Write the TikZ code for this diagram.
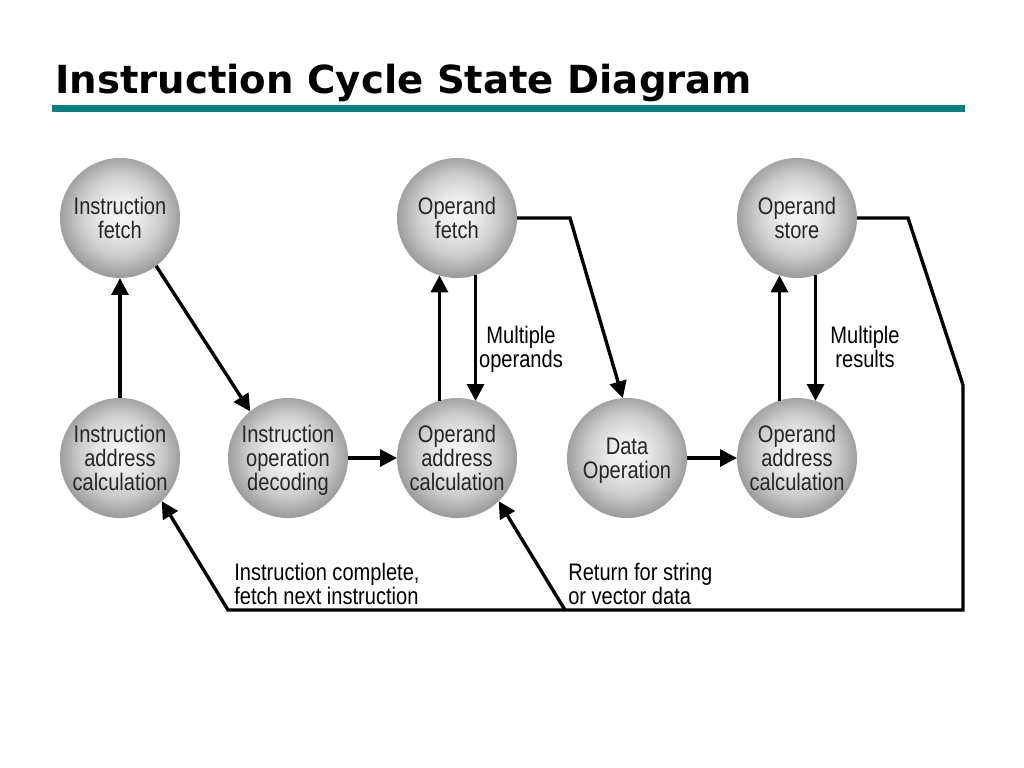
\documentclass[tikz,border=0pt]{standalone}
\usepackage{fontspec}
\setmainfont{Liberation Sans}
\newfontfamily\narrowfont[FakeStretch=0.84]{Liberation Sans}
\newfontfamily\titlefont{DejaVu Sans}
\usepackage{tikz}
\usetikzlibrary{arrows.meta}
\definecolor{rulecolor}{RGB}{0, 128, 128}
\pgfdeclareradialshading{stateshade}{\pgfpoint{0bp}{2bp}}{color(0bp)=(black!3); color(8bp)=(black!8); color(17bp)=(black!20); color(25bp)=(black!38); color(50bp)=(black!38)}

\begin{document}
\begin{tikzpicture}[x=0.025cm, y=-0.025cm,
    state/.style={circle, shading=stateshade, minimum size=3cm, inner sep=0pt, outer sep=0pt, text centered, align=center, text depth=0pt, font=\narrowfont\fontsize{17}{17}\selectfont, text=black!85},
    arrow/.style={-{Triangle[length=12pt, width=12pt]}, line width=2.4pt},
    note/.style={align=left, inner sep=0pt, text depth=0pt, font=\narrowfont\fontsize{17}{17}\selectfont}
]
\useasboundingbox (0,0) rectangle (1024,768);

% Title and rule
\node[anchor=base west, inner sep=0pt, font=\titlefont\fontsize{27.5}{30}\selectfont\bfseries] (title) at (55,94) {Instruction Cycle State Diagram};
\fill[rulecolor] (52,105) rectangle (965,112);

% Top row states
\node[state] (ifetch) at (120,218) {Instruction\\ fetch};
\node[state] (opfetch) at (457,218) {Operand\\ fetch};
\node[state] (opstore) at (797,218) {Operand\\ store};

% Bottom row states
\node[state] (iaddr) at (120,458) {Instruction\\ address\\ calculation};
\node[state] (idecode) at (288,458) {Instruction\\ operation\\ decoding};
\node[state] (oaddr) at (457,458) {Operand\\ address\\ calculation};
\node[state] (dataop) at (627,458) {Data\\ Operation};
\node[state] (saddr) at (797,458) {Operand\\ address\\ calculation};

% Arrows
\draw[arrow] (iaddr) -- (ifetch);
\draw[arrow] (ifetch.-53) -- (idecode.129);
\draw[arrow] (idecode) -- (oaddr);
\draw[arrow] (oaddr.107.5) -- (opfetch.-107.5);
\draw[arrow] (opfetch.-72.5) -- (oaddr.72.5);

\coordinate (bend1) at (570,218);
\draw[arrow] (opfetch.east) -- (bend1) -- (dataop.94);
\draw[arrow] (dataop) -- (saddr);
\draw[arrow] (saddr.107.5) -- (opstore.-107.5);
\draw[arrow] (opstore.-72.5) -- (saddr.72.5);

% Return paths
\coordinate (bend2) at (908,218);
\coordinate (bend3) at (963,385);
\coordinate (corner1) at (963,610);
\coordinate (split) at (565,610);
\coordinate (corner2) at (228,610);
\draw[arrow] (opstore.east) -- (bend2) -- (bend3) -- (corner1) -- (corner2) -- (iaddr.-46);
\draw[arrow] (split) -- (oaddr.-46);

% Labels
\node[note, align=center] (mops) at (521,347) {Multiple\\ operands};
\node[note, align=center] (mres) at (865,347) {Multiple\\ results};
\node[note, anchor=west] (done) at (234,584) {Instruction complete,\\ fetch next instruction};
\node[note, anchor=west] (again) at (568,584) {Return for string\\ or vector data};

\end{tikzpicture}
\end{document}
